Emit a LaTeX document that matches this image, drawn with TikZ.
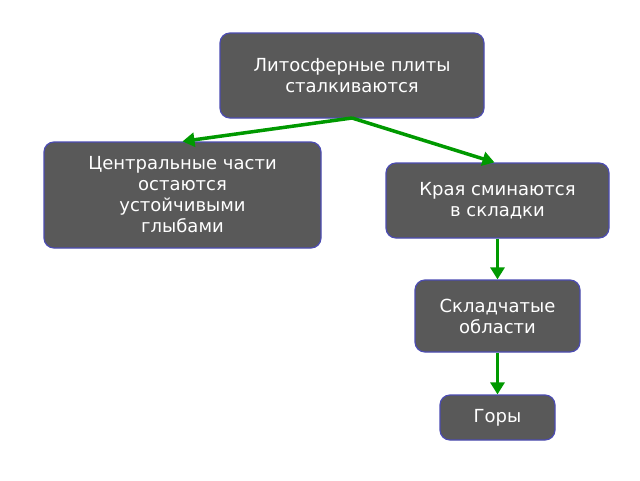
\documentclass[tikz,border=0pt]{standalone}
\usepackage{fontspec}
\setmainfont{DejaVu Sans}
\usetikzlibrary{arrows.meta}
\begin{document}
\begin{tikzpicture}[x=1pt,y=-1pt,
  box/.style={draw=blue!40!gray, line width=1.2pt, fill=black!65, rounded corners=10pt, text=white, align=center, font=\fontsize{18}{21}\selectfont, inner sep=0pt},
  arr/.style={draw=green!60!black, line width=3.5pt, -{Triangle[length=12pt,width=14pt]}}]
\useasboundingbox (0,0) rectangle (640,480);
\node[box, minimum width=264, minimum height=85] (a) at (352,75.5) {Литосферные плиты\\сталкиваются};
\node[box, minimum width=277, minimum height=106] (b) at (182.5,195) {Центральные части\\остаются\\устойчивыми\\глыбами};
\node[box, minimum width=223, minimum height=75] (c) at (497.5,200.5) {Края сминаются\\в складки};
\node[box, minimum width=165, minimum height=72] (d) at (497.5,316) {Складчатые\\области};
\node[box, minimum width=115, minimum height=45] (e) at (497.5,417.5) {Горы};
\coordinate (s) at (352,118);
\draw[arr] (s) -- (b.north);
\draw[arr] (s) -- ([xshift=-3pt]c.north);
\draw[arr] (c) -- (d);
\draw[arr] (d) -- (e);
\end{tikzpicture}
\end{document}
